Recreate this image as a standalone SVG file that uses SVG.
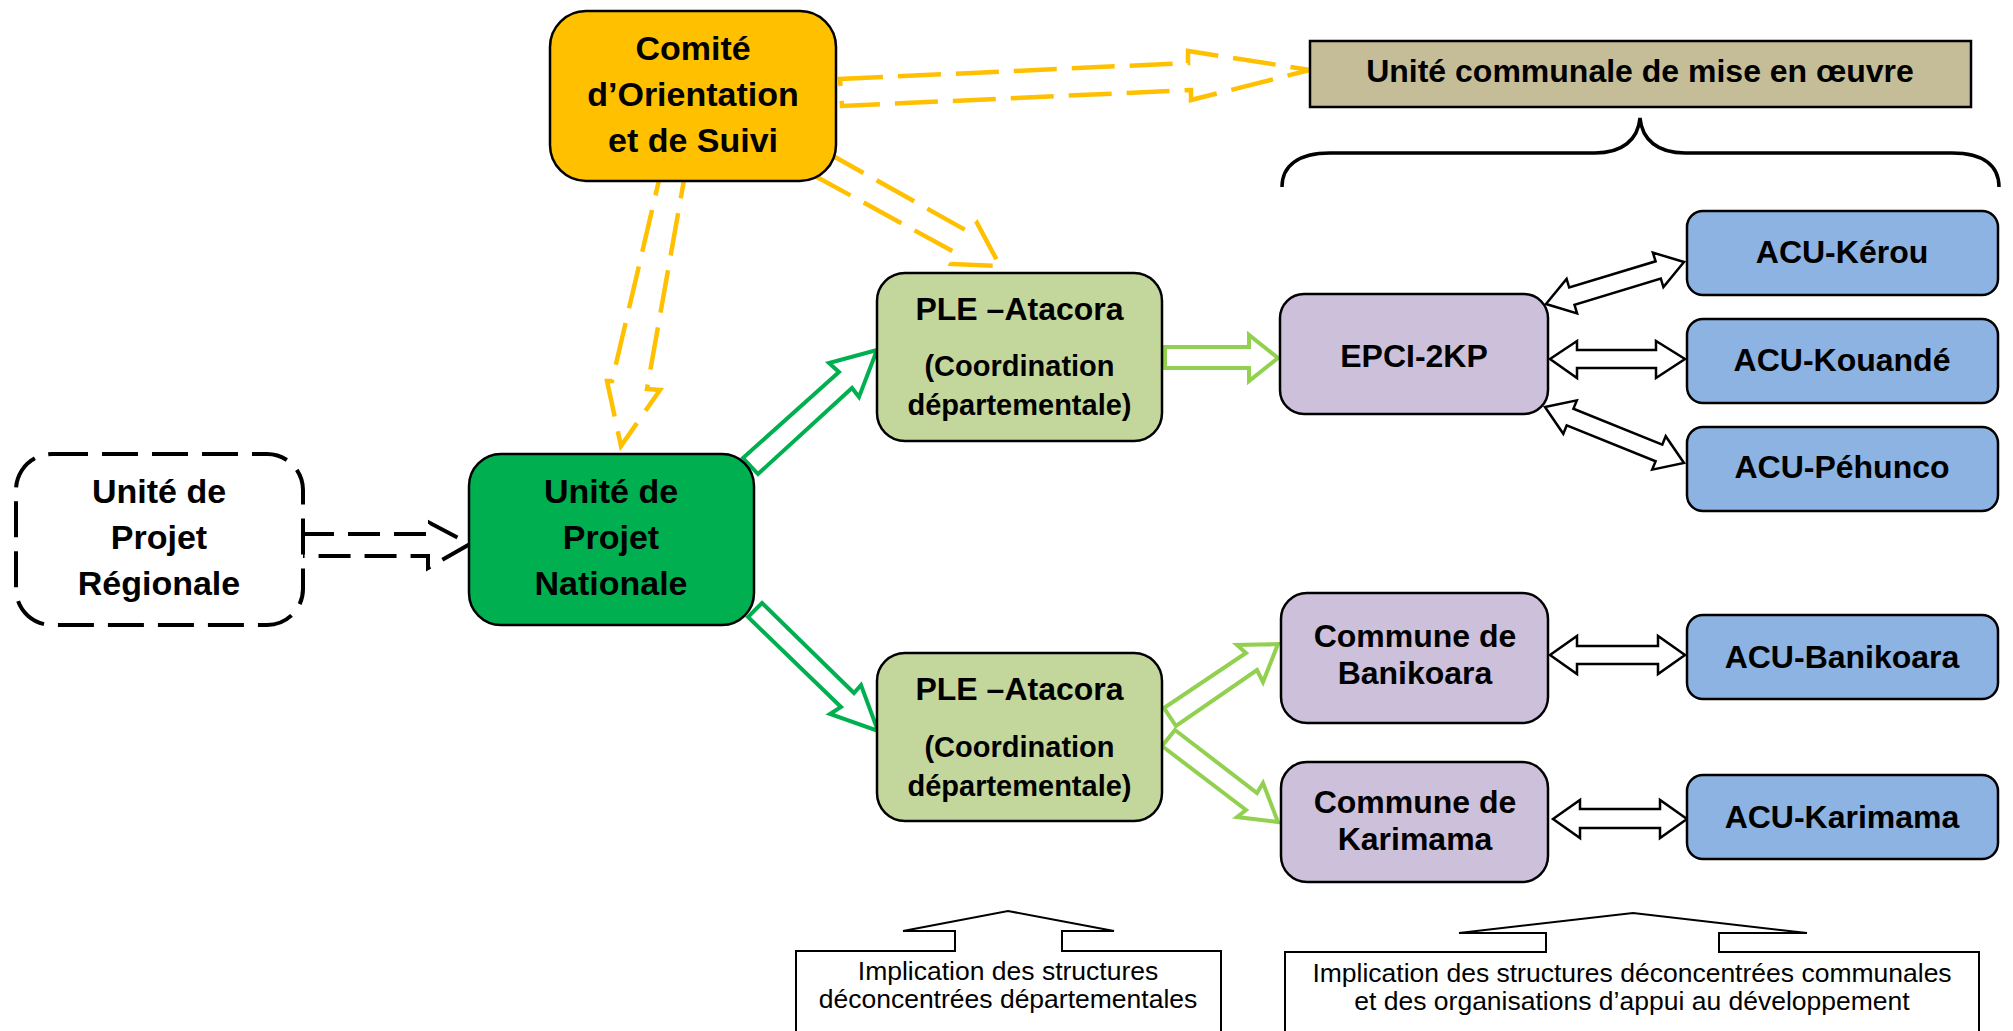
<svg xmlns="http://www.w3.org/2000/svg" width="2013" height="1031" viewBox="0 0 2013 1031">
<style>
text{font-family:"Liberation Sans",Arial,sans-serif;text-anchor:middle;fill:#000}
.b{font-weight:bold}
.f34{font-size:34px}.f32{font-size:32px}.f29{font-size:29px}.f26{font-size:26.5px}
.box{stroke:#000;stroke-width:2.5}
.ydash{fill:none;stroke:#FFC000;stroke-width:4.5;stroke-dasharray:43 15;stroke-linejoin:miter}
.kdash{fill:none;stroke:#000;stroke-width:4;stroke-dasharray:32 14}
.g1{fill:#fff;stroke:#00B050;stroke-width:4}
.g2{fill:#fff;stroke:#92D050;stroke-width:4}
.dbl{fill:#fff;stroke:#000;stroke-width:2.5}
.call{fill:#fff;stroke:#000;stroke-width:2}
</style>
<rect width="2013" height="1031" fill="#fff"/>
<g id="connectors">
<polygon class="ydash" points="840,79 1188,63 1188,51 1310,70 1191,100 1191,90 842,106"/>
<polygon class="ydash" points="826,152 969,232 977,223 1000,266 951,264 956,253 815,176"/>
<polygon class="ydash" points="660,176 684,180 647,389 660,390 621,446 607,381 612,381"/>
<polygon class="kdash" points="302,534 430,534 430,523 470,544 428,568 428,556 302,556"/>
<polygon class="g1" points="743,458 839,372 829,363 877,350 859,397 852,388 758,474"/>
<polygon class="g1" points="762,603 854,693 861,685 878,731 830,714 841,707 748,617"/>
<polygon class="g2" points="1165,347 1249,347 1249,335 1278,358 1249,381 1249,368 1165,368"/>
<polygon class="g2" points="1164,708 1246,653 1237,645 1278,644 1263,682 1257,670 1176,726"/>
<polygon class="g2" points="1175,730 1257,793 1263,783 1278,822 1237,817 1246,810 1162,746"/>
<polygon class="dbl" points="1546,304 1566.6,278.9 1569.2,287.5 1655.6,261.3 1652.9,252.6 1684,262 1663.4,287.1 1660.8,278.5 1574.5,304.8 1577.1,313.4"/>
<polygon class="dbl" points="1550,359 1577,341 1577,350 1656,350 1656,341 1685,359 1656,378 1656,368 1577,368 1577,378"/>
<polygon class="dbl" points="1545,407 1576.8,400.4 1573.4,408.7 1662.3,444.6 1665.7,436.2 1684,463 1652.2,469.6 1655.6,461.3 1566.7,425.4 1563.3,433.8"/>
<polygon class="dbl" points="1550,655 1577,636 1577,646 1658,646 1658,636 1685,655 1658,674 1658,664 1577,664 1577,674"/>
<polygon class="dbl" points="1553,819 1580,800 1580,809 1660,809 1660,800 1687,819 1660,838 1660,828 1580,828 1580,838"/>
<path d="M1282,187 C1282,166 1298,153 1330,153 L1595,153 C1622,153 1638,140 1640,118 C1642,140 1658,153 1685,153 L1952,153 C1984,153 1999,166 1999,187" fill="none" stroke="#000" stroke-width="3.5"/>
</g>
<g id="comite">
<rect class="box" x="550" y="11" width="286" height="170" rx="36" fill="#FFC000"/>
<text class="b f34" x="693" y="60">Comité</text>
<text class="b f34" x="693" y="106">d’Orientation</text>
<text class="b f34" x="693" y="152">et de Suivi</text>
</g>
<g id="unite-communale">
<rect class="box" x="1310" y="41" width="661" height="66" fill="#C4BD97"/>
<text class="b f32" x="1640" y="82">Unité communale de mise en œuvre</text>
</g>
<g id="upr">
<rect x="16" y="454" width="287" height="171" rx="36" fill="#fff" stroke="#000" stroke-width="4" stroke-dasharray="36 14"/>
<text class="b f34" x="159" y="503">Unité de</text>
<text class="b f34" x="159" y="549">Projet</text>
<text class="b f34" x="159" y="595">Régionale</text>
</g>
<g id="upn">
<rect class="box" x="469" y="454" width="285" height="171" rx="32" fill="#00B050"/>
<text class="b f34" x="611" y="503">Unité de</text>
<text class="b f34" x="611" y="549">Projet</text>
<text class="b f34" x="611" y="595">Nationale</text>
</g>
<g id="ple1">
<rect class="box" x="877" y="273" width="285" height="168" rx="28" fill="#C3D69B"/>
<text class="b f32" x="1019.5" y="320">PLE –Atacora</text>
<text class="b f29" x="1019.5" y="376">(Coordination</text>
<text class="b f29" x="1019.5" y="415">départementale)</text>
</g>
<g id="ple2">
<rect class="box" x="877" y="653" width="285" height="168" rx="28" fill="#C3D69B"/>
<text class="b f32" x="1019.5" y="700">PLE –Atacora</text>
<text class="b f29" x="1019.5" y="757">(Coordination</text>
<text class="b f29" x="1019.5" y="796">départementale)</text>
</g>
<g id="epci">
<rect class="box" x="1280" y="294" width="268" height="120" rx="24" fill="#CCC0DA"/>
<text class="b f32" x="1414" y="367">EPCI-2KP</text>
</g>
<g id="commune-banikoara">
<rect class="box" x="1281" y="593" width="267" height="130" rx="26" fill="#CCC0DA"/>
<text class="b f32" x="1415" y="647">Commune de</text>
<text class="b f32" x="1415" y="684">Banikoara</text>
</g>
<g id="commune-karimama">
<rect class="box" x="1281" y="762" width="267" height="120" rx="26" fill="#CCC0DA"/>
<text class="b f32" x="1415" y="813">Commune de</text>
<text class="b f32" x="1415" y="850">Karimama</text>
</g>
<g id="acu-kerou">
<rect class="box" x="1687" y="211" width="311" height="84" rx="16" fill="#8DB3E2"/>
<text class="b f32" x="1842" y="263">ACU-Kérou</text>
</g>
<g id="acu-kouande">
<rect class="box" x="1687" y="319" width="311" height="84" rx="16" fill="#8DB3E2"/>
<text class="b f32" x="1842" y="371">ACU-Kouandé</text>
</g>
<g id="acu-pehunco">
<rect class="box" x="1687" y="427" width="311" height="84" rx="16" fill="#8DB3E2"/>
<text class="b f32" x="1842" y="478">ACU-Péhunco</text>
</g>
<g id="acu-banikoara">
<rect class="box" x="1687" y="615" width="311" height="84" rx="16" fill="#8DB3E2"/>
<text class="b f32" x="1842" y="668">ACU-Banikoara</text>
</g>
<g id="acu-karimama">
<rect class="box" x="1687" y="775" width="311" height="84" rx="16" fill="#8DB3E2"/>
<text class="b f32" x="1842" y="828">ACU-Karimama</text>
</g>
<g id="callout-departemental">
<path class="call" d="M796,1040 L796,951 L955,951 L955,931 L903,931 L1008,911 L1114,931 L1062,931 L1062,951 L1221,951 L1221,1040"/>
<text class="f26" x="1008" y="980">Implication des structures</text>
<text class="f26" x="1008" y="1008">déconcentrées départementales</text>
</g>
<g id="callout-communal">
<path class="call" d="M1285,1040 L1285,952 L1546,952 L1546,933 L1459,933 L1633,913 L1807,933 L1719,933 L1719,952 L1979,952 L1979,1040"/>
<text class="f26" x="1632" y="982">Implication des structures déconcentrées communales</text>
<text class="f26" x="1632" y="1010">et des organisations d’appui au développement</text>
</g>
</svg>
